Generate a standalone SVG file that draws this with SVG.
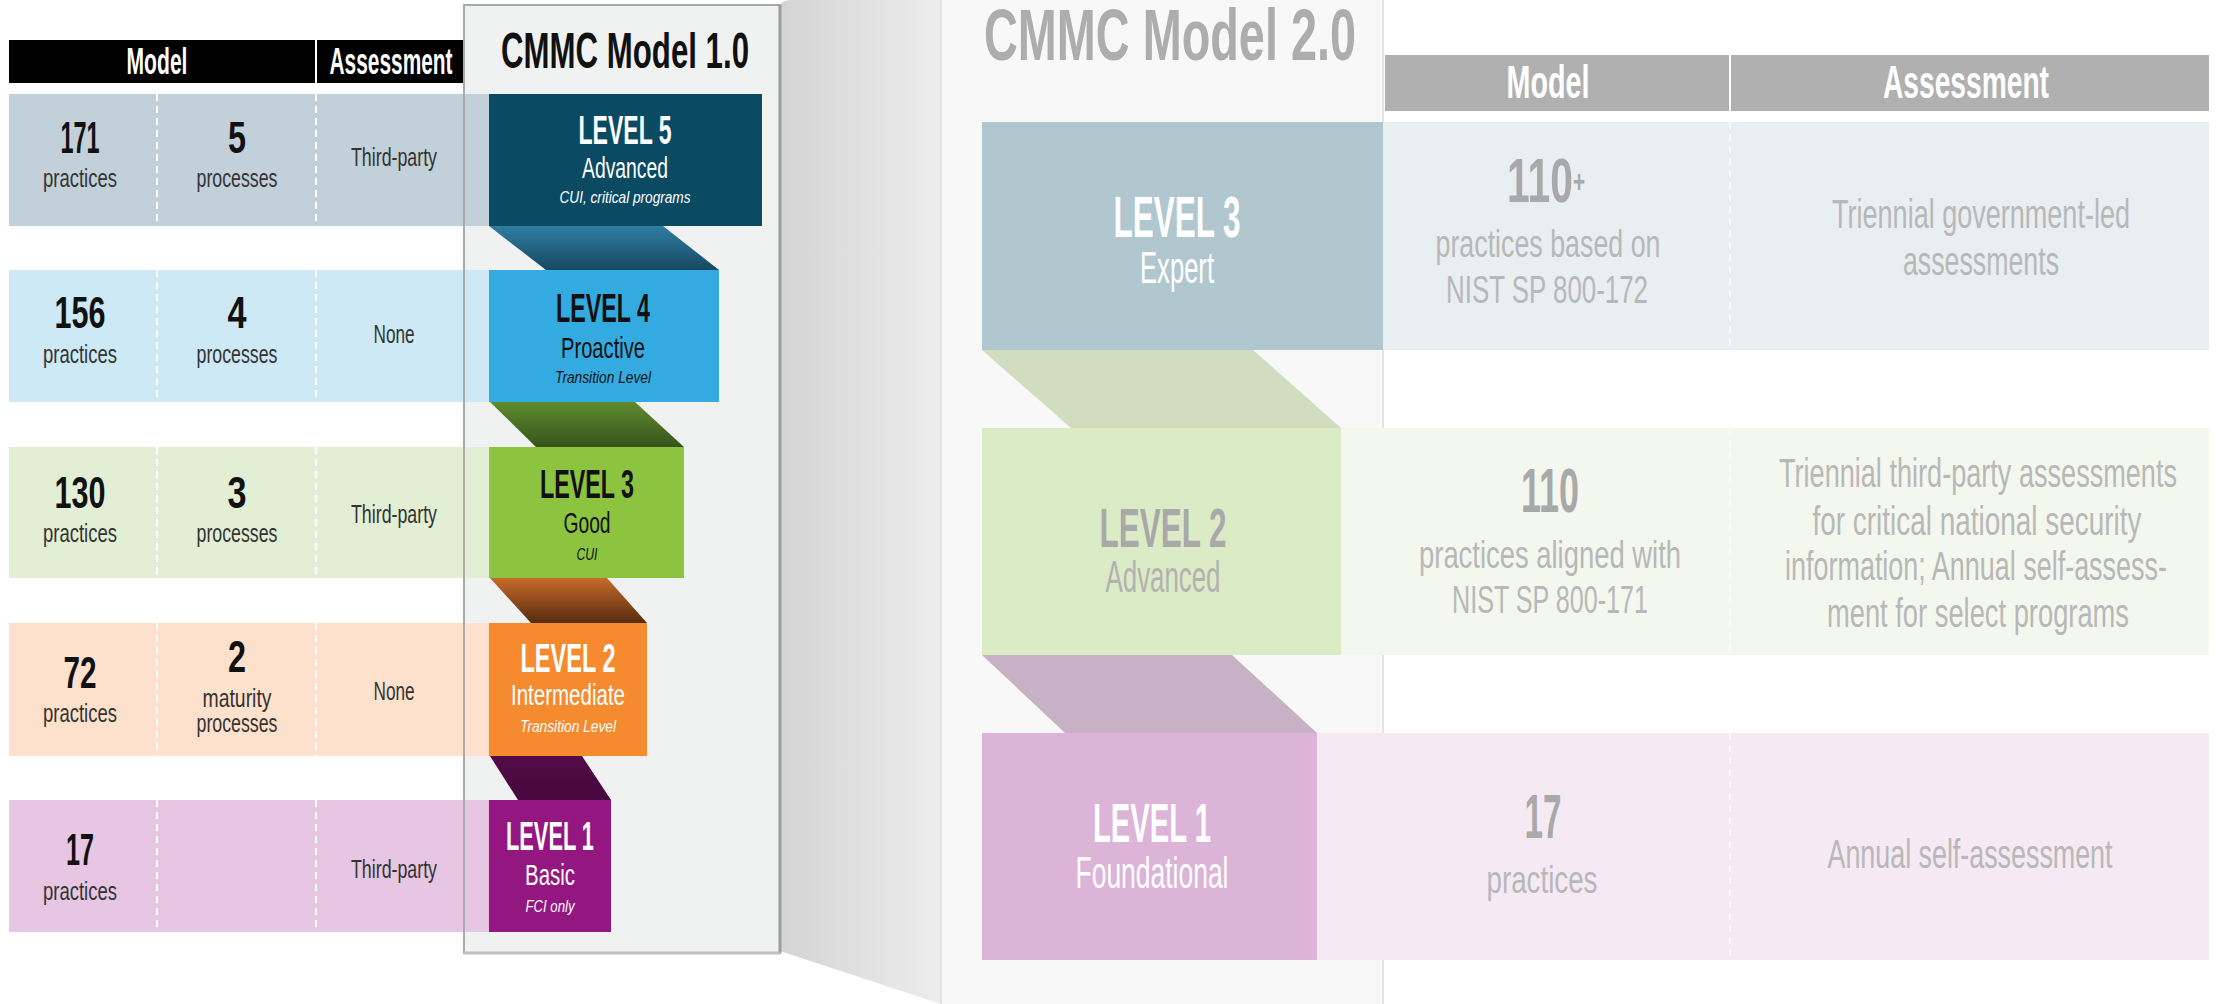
<svg xmlns="http://www.w3.org/2000/svg" width="2216" height="1004" viewBox="0 0 2216 1004">
<defs>
<style>
.t{font-family:"Liberation Sans Narrow","Liberation Sans",Arial,sans-serif;text-anchor:middle}
.b{font-weight:bold}
.i{font-style:italic}
.dk{fill:#111}
.md{fill:#333}
.w{fill:#fff}
.g1{fill:#a9a9a9}
.g2{fill:#b8b8b8}
.dash{stroke:#fff;stroke-width:2;stroke-dasharray:7 5}
.dash2{stroke:#fff;stroke-width:1.5;stroke-dasharray:7 5;opacity:0.8}
</style>
<linearGradient id="persp" x1="0" y1="0" x2="1" y2="0">
<stop offset="0" stop-color="#d4d4d4"/><stop offset="1" stop-color="#ededed"/>
</linearGradient>
<linearGradient id="c54" x1="0" y1="0" x2="0" y2="1">
<stop offset="0" stop-color="#2f7da2"/><stop offset="1" stop-color="#164862"/>
</linearGradient>
<linearGradient id="c43" x1="0" y1="0" x2="0" y2="1">
<stop offset="0" stop-color="#5f8c2d"/><stop offset="1" stop-color="#36531b"/>
</linearGradient>
<linearGradient id="c32" x1="0" y1="0" x2="0" y2="1">
<stop offset="0" stop-color="#c86a2a"/><stop offset="1" stop-color="#562c10"/>
</linearGradient>
<linearGradient id="c21" x1="0" y1="0" x2="0" y2="1">
<stop offset="0" stop-color="#530b47"/><stop offset="1" stop-color="#47083d"/>
</linearGradient>
</defs>
<rect width="2216" height="1004" fill="#fff"/>

<g id="perspective">
<path d="M780,5 Q782,0 792,0 L941,0 L941,1004 L780,951 Z" fill="url(#persp)"/>
</g>

<g id="panel-2">
<rect x="941" y="-2" width="442" height="1010" fill="#f8f8f8" stroke="#e4e4e4" stroke-width="2"/>
<text class="t b" transform="translate(1170 60) scale(.75 1)" font-size="73" fill="#adadad" textLength="496" lengthAdjust="spacingAndGlyphs">CMMC Model 2.0</text>
</g>

<g id="panel-1">
<rect x="464" y="5" width="316" height="948" fill="#f0f1f1"/>
<text class="t b dk" transform="translate(625 68) scale(.75 1)" font-size="50" textLength="330.7" lengthAdjust="spacingAndGlyphs">CMMC Model 1.0</text>
</g>

<g id="header-1">
<rect x="9" y="40" width="455" height="43" fill="#000"/>
<line x1="316" y1="40" x2="316" y2="83" stroke="#fff" stroke-width="2"/>
<text class="t b w" transform="translate(157 74) scale(.75 1)" font-size="37" textLength="81.3" lengthAdjust="spacingAndGlyphs">Model</text>
<text class="t b w" transform="translate(391 74) scale(.75 1)" font-size="37" textLength="164" lengthAdjust="spacingAndGlyphs">Assessment</text>
</g>

<g id="header-2">
<rect x="1385" y="55" width="824" height="56" fill="#b0b0b0"/>
<line x1="1730" y1="55" x2="1730" y2="111" stroke="#fff" stroke-width="2"/>
<text class="t b w" transform="translate(1548 98) scale(.75 1)" font-size="46" textLength="110.7" lengthAdjust="spacingAndGlyphs">Model</text>
<text class="t b w" transform="translate(1966 98) scale(.75 1)" font-size="46" textLength="221.3" lengthAdjust="spacingAndGlyphs">Assessment</text>
</g>

<g id="v1-level5">
<rect x="9" y="94" width="480" height="132" fill="#c2d1d9"/>
<line class="dash" x1="157" y1="94" x2="157" y2="226"/>
<line class="dash" x1="316" y1="94" x2="316" y2="226"/>
<rect x="489" y="94" width="273" height="132" fill="#0b4a63"/>
<text class="t b dk" transform="translate(80 153) scale(.75 1)" font-size="44" textLength="52" lengthAdjust="spacingAndGlyphs">171</text>
<text class="t md" transform="translate(80 187) scale(.75 1)" font-size="26" textLength="98.7" lengthAdjust="spacingAndGlyphs">practices</text>
<text class="t b dk" transform="translate(237 153) scale(.75 1)" font-size="44" textLength="24" lengthAdjust="spacingAndGlyphs">5</text>
<text class="t md" transform="translate(237 187) scale(.75 1)" font-size="26" textLength="108" lengthAdjust="spacingAndGlyphs">processes</text>
<text class="t md" transform="translate(394 166) scale(.75 1)" font-size="26" textLength="114.7" lengthAdjust="spacingAndGlyphs">Third-party</text>
<text class="t b w" transform="translate(625 144) scale(.75 1)" font-size="40" textLength="124" lengthAdjust="spacingAndGlyphs">LEVEL 5</text>
<text class="t w" transform="translate(625 178) scale(.75 1)" font-size="29" textLength="114.7" lengthAdjust="spacingAndGlyphs">Advanced</text>
<text class="t i w" transform="translate(625 203) scale(.75 1)" font-size="16" textLength="174.7" lengthAdjust="spacingAndGlyphs">CUI, critical programs</text>
</g>

<g id="v1-level4">
<rect x="9" y="270" width="480" height="132" fill="#cde9f5"/>
<line class="dash" x1="157" y1="270" x2="157" y2="402"/>
<line class="dash" x1="316" y1="270" x2="316" y2="402"/>
<rect x="489" y="270" width="230" height="132" fill="#33abe0"/>
<text class="t b dk" transform="translate(80 328) scale(.75 1)" font-size="44" textLength="68" lengthAdjust="spacingAndGlyphs">156</text>
<text class="t md" transform="translate(80 363) scale(.75 1)" font-size="26" textLength="98.7" lengthAdjust="spacingAndGlyphs">practices</text>
<text class="t b dk" transform="translate(237 328) scale(.75 1)" font-size="44" textLength="25.3" lengthAdjust="spacingAndGlyphs">4</text>
<text class="t md" transform="translate(237 363) scale(.75 1)" font-size="26" textLength="108" lengthAdjust="spacingAndGlyphs">processes</text>
<text class="t md" transform="translate(394 343) scale(.75 1)" font-size="26" textLength="54.7" lengthAdjust="spacingAndGlyphs">None</text>
<text class="t b dk" transform="translate(603 322) scale(.75 1)" font-size="40" textLength="125.3" lengthAdjust="spacingAndGlyphs">LEVEL 4</text>
<text class="t dk" transform="translate(603 358) scale(.75 1)" font-size="29" textLength="112" lengthAdjust="spacingAndGlyphs">Proactive</text>
<text class="t i dk" transform="translate(603 383) scale(.75 1)" font-size="16" textLength="128" lengthAdjust="spacingAndGlyphs">Transition Level</text>
</g>

<g id="v1-level3">
<rect x="9" y="447" width="480" height="131" fill="#e3efd4"/>
<line class="dash" x1="157" y1="447" x2="157" y2="578"/>
<line class="dash" x1="316" y1="447" x2="316" y2="578"/>
<rect x="489" y="447" width="195" height="131" fill="#8cc43f"/>
<text class="t b dk" transform="translate(80 508) scale(.75 1)" font-size="44" textLength="68" lengthAdjust="spacingAndGlyphs">130</text>
<text class="t md" transform="translate(80 542) scale(.75 1)" font-size="26" textLength="98.7" lengthAdjust="spacingAndGlyphs">practices</text>
<text class="t b dk" transform="translate(237 508) scale(.75 1)" font-size="44" textLength="25.3" lengthAdjust="spacingAndGlyphs">3</text>
<text class="t md" transform="translate(237 542) scale(.75 1)" font-size="26" textLength="108" lengthAdjust="spacingAndGlyphs">processes</text>
<text class="t md" transform="translate(394 523) scale(.75 1)" font-size="26" textLength="114.7" lengthAdjust="spacingAndGlyphs">Third-party</text>
<text class="t b dk" transform="translate(587 498) scale(.75 1)" font-size="40" textLength="125.3" lengthAdjust="spacingAndGlyphs">LEVEL 3</text>
<text class="t dk" transform="translate(587 533) scale(.75 1)" font-size="29" textLength="62.7" lengthAdjust="spacingAndGlyphs">Good</text>
<text class="t i dk" transform="translate(587 560) scale(.75 1)" font-size="16" textLength="28" lengthAdjust="spacingAndGlyphs">CUI</text>
</g>

<g id="v1-level2">
<rect x="9" y="623" width="480" height="133" fill="#fde1cc"/>
<line class="dash" x1="157" y1="623" x2="157" y2="756"/>
<line class="dash" x1="316" y1="623" x2="316" y2="756"/>
<rect x="489" y="623" width="158" height="133" fill="#f68a2e"/>
<text class="t b dk" transform="translate(80 688) scale(.75 1)" font-size="44" textLength="44" lengthAdjust="spacingAndGlyphs">72</text>
<text class="t md" transform="translate(80 722) scale(.75 1)" font-size="26" textLength="98.7" lengthAdjust="spacingAndGlyphs">practices</text>
<text class="t b dk" transform="translate(237 672) scale(.75 1)" font-size="44" textLength="24" lengthAdjust="spacingAndGlyphs">2</text>
<text class="t md" transform="translate(237 707) scale(.75 1)" font-size="26" textLength="92" lengthAdjust="spacingAndGlyphs">maturity</text>
<text class="t md" transform="translate(237 732) scale(.75 1)" font-size="26" textLength="108" lengthAdjust="spacingAndGlyphs">processes</text>
<text class="t md" transform="translate(394 700) scale(.75 1)" font-size="26" textLength="54.7" lengthAdjust="spacingAndGlyphs">None</text>
<text class="t b w" transform="translate(568 672) scale(.75 1)" font-size="40" textLength="126.7" lengthAdjust="spacingAndGlyphs">LEVEL 2</text>
<text class="t w" transform="translate(568 705) scale(.75 1)" font-size="29" textLength="152" lengthAdjust="spacingAndGlyphs">Intermediate</text>
<text class="t i w" transform="translate(568 732) scale(.75 1)" font-size="16" textLength="128" lengthAdjust="spacingAndGlyphs">Transition Level</text>
</g>

<g id="v1-level1">
<rect x="9" y="800" width="480" height="132" fill="#e6c6e2"/>
<line class="dash" x1="157" y1="800" x2="157" y2="932"/>
<line class="dash" x1="316" y1="800" x2="316" y2="932"/>
<rect x="489" y="800" width="122" height="132" fill="#941781"/>
<text class="t b dk" transform="translate(80 865) scale(.75 1)" font-size="44" textLength="37.3" lengthAdjust="spacingAndGlyphs">17</text>
<text class="t md" transform="translate(80 900) scale(.75 1)" font-size="26" textLength="98.7" lengthAdjust="spacingAndGlyphs">practices</text>
<text class="t md" transform="translate(394 878) scale(.75 1)" font-size="26" textLength="114.7" lengthAdjust="spacingAndGlyphs">Third-party</text>
<text class="t b w" transform="translate(550 850) scale(.75 1)" font-size="40" textLength="117.3" lengthAdjust="spacingAndGlyphs">LEVEL 1</text>
<text class="t w" transform="translate(550 885) scale(.75 1)" font-size="29" textLength="66.7" lengthAdjust="spacingAndGlyphs">Basic</text>
<text class="t i w" transform="translate(550 912) scale(.75 1)" font-size="16" textLength="65.3" lengthAdjust="spacingAndGlyphs">FCI only</text>
</g>

<g id="panel-1-outline">
<rect x="464" y="5" width="316" height="948" fill="none" stroke="#a9abab" stroke-width="2"/>
<line x1="780" y1="5" x2="780" y2="953" stroke="#9c9c9c" stroke-width="3"/>
<line x1="464" y1="953" x2="780" y2="953" stroke="#bdbdbd" stroke-width="3"/>
</g>

<g id="v2-level3">
<rect x="1383" y="122" width="826" height="228" fill="#e9eef1"/>
<line class="dash2" x1="1730" y1="122" x2="1730" y2="350"/>
<rect x="982" y="122" width="401" height="228" fill="#b0c7cf"/>
<text class="t b w" transform="translate(1177 237) scale(.75 1)" font-size="57" textLength="169.3" lengthAdjust="spacingAndGlyphs">LEVEL 3</text>
<text class="t w" transform="translate(1177 283) scale(.75 1)" font-size="44" textLength="98.7" lengthAdjust="spacingAndGlyphs">Expert</text>
<text class="t b g1" transform="translate(1546 202) scale(.75 1)" font-size="63" textLength="104" lengthAdjust="spacingAndGlyphs">110<tspan font-size="32" dy="-10">+</tspan></text>
<text class="t g2" transform="translate(1548 257) scale(.75 1)" font-size="38" textLength="300" lengthAdjust="spacingAndGlyphs">practices based on</text>
<text class="t g2" transform="translate(1547 303) scale(.75 1)" font-size="38" textLength="269.3" lengthAdjust="spacingAndGlyphs">NIST SP 800-172</text>
<text class="t g2" transform="translate(1981 228) scale(.75 1)" font-size="40" textLength="397.3" lengthAdjust="spacingAndGlyphs">Triennial government-led</text>
<text class="t g2" transform="translate(1981 275) scale(.75 1)" font-size="40" textLength="208" lengthAdjust="spacingAndGlyphs">assessments</text>
</g>

<g id="v2-level2">
<rect x="1341" y="428" width="868" height="227" fill="#f3f7ed"/>
<line class="dash2" x1="1730" y1="428" x2="1730" y2="655"/>
<rect x="982" y="428" width="359" height="227" fill="#dbebc5"/>
<text class="t b g1" transform="translate(1163 547) scale(.75 1)" font-size="56" textLength="169.3" lengthAdjust="spacingAndGlyphs">LEVEL 2</text>
<text class="t" transform="translate(1163 592) scale(.75 1)" font-size="44" fill="#b2b2b2" textLength="153.3" lengthAdjust="spacingAndGlyphs">Advanced</text>
<text class="t b g1" transform="translate(1550 512) scale(.75 1)" font-size="63" textLength="77.3" lengthAdjust="spacingAndGlyphs">110</text>
<text class="t g2" transform="translate(1550 568) scale(.75 1)" font-size="38" textLength="349.3" lengthAdjust="spacingAndGlyphs">practices aligned with</text>
<text class="t g2" transform="translate(1550 613) scale(.75 1)" font-size="38" textLength="261.3" lengthAdjust="spacingAndGlyphs">NIST SP 800-171</text>
<text class="t g2" transform="translate(1978 487) scale(.75 1)" font-size="40" textLength="530.7" lengthAdjust="spacingAndGlyphs">Triennial third-party assessments</text>
<text class="t g2" transform="translate(1977 535) scale(.75 1)" font-size="40" textLength="438.7" lengthAdjust="spacingAndGlyphs">for critical national security</text>
<text class="t g2" transform="translate(1976 580) scale(.75 1)" font-size="40" textLength="509.3" lengthAdjust="spacingAndGlyphs">information; Annual self-assess-</text>
<text class="t g2" transform="translate(1978 627) scale(.75 1)" font-size="40" textLength="402.7" lengthAdjust="spacingAndGlyphs">ment for select programs</text>
</g>

<g id="v2-level1">
<rect x="1317" y="733" width="892" height="227" fill="#f5e9f3"/>
<line class="dash2" x1="1730" y1="733" x2="1730" y2="960"/>
<rect x="982" y="733" width="335" height="227" fill="#dcb4d8"/>
<text class="t b w" transform="translate(1152 842) scale(.75 1)" font-size="56" textLength="157.3" lengthAdjust="spacingAndGlyphs">LEVEL 1</text>
<text class="t w" transform="translate(1152 888) scale(.75 1)" font-size="44" textLength="204" lengthAdjust="spacingAndGlyphs">Foundational</text>
<text class="t b g1" transform="translate(1543 838) scale(.75 1)" font-size="63" textLength="49.3" lengthAdjust="spacingAndGlyphs">17</text>
<text class="t g2" transform="translate(1542 893) scale(.75 1)" font-size="38" textLength="148" lengthAdjust="spacingAndGlyphs">practices</text>
<text class="t g2" transform="translate(1970 868) scale(.75 1)" font-size="40" textLength="380" lengthAdjust="spacingAndGlyphs">Annual self-assessment</text>
</g>

<g id="connectors">
<polygon points="489,226 663,226 719,270 546,270" fill="url(#c54)"/>
<polygon points="490,402 635,402 684,447 536,447" fill="url(#c43)"/>
<polygon points="490,578 607,578 647,623 531,623" fill="url(#c32)"/>
<polygon points="490,756 582,756 611,800 518,800" fill="url(#c21)"/>
<polygon points="982,350 1253,350 1341,428 1071,428" fill="#d0ddbf"/>
<polygon points="982,655 1232,655 1317,733 1065,733" fill="#c7b1c5"/>
</g>
</svg>
